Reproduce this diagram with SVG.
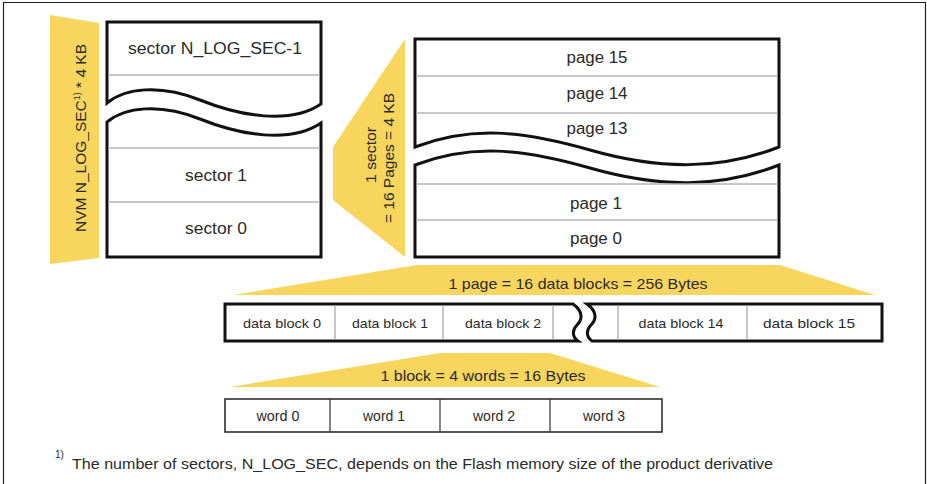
<svg xmlns="http://www.w3.org/2000/svg" width="927" height="484" viewBox="0 0 927 484">
<style>
text{font-family:"Liberation Sans",Arial,sans-serif;fill:#2a2a2a}
.lbl{font-size:16px;text-anchor:middle}
.db{font-size:13.5px;text-anchor:middle}
.wd{font-size:14px;text-anchor:middle}
.ylw{fill:#F8D65E;stroke:none}
.yt{font-size:15px;text-anchor:middle}
.thick{fill:#fff;stroke:#111;stroke-width:3;stroke-linejoin:miter}
.thin{fill:#fff;stroke:#222;stroke-width:1.5}
.grid{stroke:#b4b4b4;stroke-width:1.5;fill:none}
.div{stroke:#333;stroke-width:1.2;fill:none}
</style>
<rect x="0" y="0" width="927" height="484" fill="#fff"/>
<path d="M3.5,484 V2.5 H925.5 V484" fill="none" stroke="#222" stroke-width="1.2"/>

<g id="nvm-label">
<polygon class="ylw" points="50,15 99,23 99,258 50,264"/>
<text class="yt" transform="translate(86,138) rotate(-90)" style="font-size:15.5px">NVM N_LOG_SEC<tspan font-size="9" dy="-6">1)</tspan><tspan dy="6"> * 4 KB</tspan></text>
</g>

<g id="sectors">
<path class="thick" d="M107,22 H321 V104 C290,125 240,116 200,100 C160,84 125,88 107,103 Z"/>
<path class="thick" d="M107,122 C125,107 160,103 200,119 C240,135 290,144 321,123 V257 H107 Z"/>
<line class="grid" x1="108.5" y1="75" x2="319.5" y2="75"/>
<line class="grid" x1="108.5" y1="148" x2="319.5" y2="148"/>
<line class="grid" x1="108.5" y1="202" x2="319.5" y2="202"/>
<text class="lbl" x="215" y="54" textLength="174" lengthAdjust="spacingAndGlyphs">sector N_LOG_SEC-1</text>
<text class="lbl" x="216" y="181" textLength="62" lengthAdjust="spacingAndGlyphs">sector 1</text>
<text class="lbl" x="216" y="234" textLength="62" lengthAdjust="spacingAndGlyphs">sector 0</text>
</g>

<g id="sector-label">
<polygon class="ylw" points="405,39 333,147 333,200 405,257"/>
<text class="yt" transform="translate(376,155) rotate(-90)" textLength="56" lengthAdjust="spacingAndGlyphs">1 sector</text>
<text class="yt" transform="translate(394,158) rotate(-90)" textLength="130" lengthAdjust="spacingAndGlyphs">= 16 Pages = 4 KB</text>
</g>

<g id="pages">
<path class="thick" d="M415,39 H779 V147 C720,170 660,170 590,150 C520,130 470,126 415,147 Z"/>
<path class="thick" d="M415,165 C470,144 520,148 590,168 C660,188 720,188 779,165 V257 H415 Z"/>
<line class="grid" x1="416.5" y1="76" x2="777.5" y2="76"/>
<line class="grid" x1="416.5" y1="113" x2="777.5" y2="113"/>
<line class="grid" x1="416.5" y1="184" x2="777.5" y2="184"/>
<line class="grid" x1="416.5" y1="220" x2="777.5" y2="220"/>
<text class="lbl" x="597" y="63" textLength="61" lengthAdjust="spacingAndGlyphs">page 15</text>
<text class="lbl" x="597" y="99" textLength="61" lengthAdjust="spacingAndGlyphs">page 14</text>
<text class="lbl" x="597" y="134" textLength="61" lengthAdjust="spacingAndGlyphs">page 13</text>
<text class="lbl" x="596" y="209" textLength="52" lengthAdjust="spacingAndGlyphs">page 1</text>
<text class="lbl" x="596" y="244" textLength="52" lengthAdjust="spacingAndGlyphs">page 0</text>
</g>

<g id="page-label">
<polygon class="ylw" points="233,295 417,265 780,265 875,295"/>
<text class="yt" x="578" y="289" textLength="259" lengthAdjust="spacingAndGlyphs">1 page = 16 data blocks = 256 Bytes</text>
</g>

<g id="data-blocks">
<path class="thick" d="M225,304 H573 C584,312 582,320 577,325 C572,330 572,337 578,341 H225 Z"/>
<path class="thick" d="M587,304 H882 V341 H592 C586,337 586,330 591,325 C596,320 598,312 587,304 Z"/>
<line class="grid" x1="335" y1="305.5" x2="335" y2="339.5"/>
<line class="grid" x1="443" y1="305.5" x2="443" y2="339.5"/>
<line class="grid" x1="553" y1="305.5" x2="553" y2="339.5"/>
<line class="grid" x1="618" y1="305.5" x2="618" y2="339.5"/>
<line class="grid" x1="747" y1="305.5" x2="747" y2="339.5"/>
<text class="db" x="282" y="328" textLength="78" lengthAdjust="spacingAndGlyphs">data block 0</text>
<text class="db" x="390" y="328" textLength="76" lengthAdjust="spacingAndGlyphs">data block 1</text>
<text class="db" x="503" y="328" textLength="76" lengthAdjust="spacingAndGlyphs">data block 2</text>
<text class="db" x="681" y="328" textLength="85" lengthAdjust="spacingAndGlyphs">data block 14</text>
<text class="db" x="809" y="328" textLength="92" lengthAdjust="spacingAndGlyphs">data block 15</text>
</g>

<g id="block-label">
<polygon class="ylw" points="230,387 440,353 550,353 660,387"/>
<text class="yt" x="483" y="381" textLength="205" lengthAdjust="spacingAndGlyphs">1 block = 4 words = 16 Bytes</text>
</g>

<g id="words">
<rect class="thin" x="225" y="399" width="437" height="33"/>
<line class="div" x1="330" y1="399" x2="330" y2="432"/>
<line class="div" x1="440" y1="399" x2="440" y2="432"/>
<line class="div" x1="550" y1="399" x2="550" y2="432"/>
<text class="wd" x="278" y="421" textLength="43" lengthAdjust="spacingAndGlyphs">word 0</text>
<text class="wd" x="384" y="421" textLength="42" lengthAdjust="spacingAndGlyphs">word 1</text>
<text class="wd" x="494" y="421" textLength="42" lengthAdjust="spacingAndGlyphs">word 2</text>
<text class="wd" x="604" y="421" textLength="42" lengthAdjust="spacingAndGlyphs">word 3</text>
</g>

<g id="footnote">
<text x="55" y="458" style="font-size:10px">1)</text>
<text x="72" y="469" style="font-size:15.5px" textLength="701" lengthAdjust="spacingAndGlyphs">The number of sectors, N_LOG_SEC, depends on the Flash memory size of the product derivative</text>
</g>
<g id="connectors"/>
</svg>
